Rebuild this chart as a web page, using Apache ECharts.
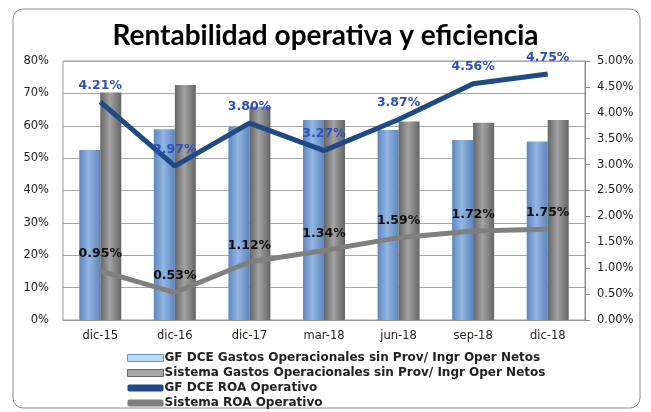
<!DOCTYPE html>
<html><head><meta charset="utf-8">
<script src="https://cdn.jsdelivr.net/npm/echarts@6/dist/echarts.min.js"></script>
<style>html,body{margin:0;padding:0;background:#fff}#c{width:651px;height:412px}</style>
</head><body><div id="c"></div>
<script>
const categories = ['dic-15','dic-16','dic-17','mar-18','jun-18','sep-18','dic-18'];
const gfGastos = [52.5, 58.9, 59.7, 61.8, 58.7, 55.6, 55.1];
const sisGastos = [70.3, 72.6, 65.9, 61.8, 61.3, 60.9, 61.8];
const gfRoa = [4.21, 2.97, 3.80, 3.27, 3.87, 4.56, 4.75];
const sisRoa = [0.95, 0.53, 1.12, 1.34, 1.59, 1.72, 1.75];
const leftTicks = [0,10,20,30,40,50,60,70,80];
const rightTicks = [0,0.5,1,1.5,2,2.5,3,3.5,4,4.5,5];
const names = ['GF DCE Gastos Operacionales sin Prov/ Ingr Oper Netos','Sistema Gastos Operacionales sin Prov/ Ingr Oper Netos','GF DCE ROA Operativo','Sistema ROA Operativo'];

const grad = (a,b)=>({type:'linear',x:0,y:0,x2:1,y2:0,colorStops:[{offset:0,color:a},{offset:0.45,color:b},{offset:1,color:a}]});
const chart = echarts.init(document.getElementById('c'));
const axFont = {fontFamily:'DejaVu Sans',fontSize:11.5,color:'#222'};
const lbl = (c)=>({show:true,position:'top',distance:10,formatter:p=>p.value.toFixed(2)+'%',fontFamily:'DejaVu Sans',fontWeight:'bold',fontSize:12.5,color:c});
chart.setOption({
  animation:false,
  title:{text:'Rentabilidad operativa y eficiencia',left:'center',top:17,textStyle:{fontFamily:'Lato',fontWeight:'bold',fontSize:28,color:'#000'}},
  graphic:[{type:'rect',shape:{x:13,y:9,width:627,height:399,r:10},style:{fill:'none',stroke:'#8a8a8a',lineWidth:1},silent:true}],
  grid:{left:63,right:66,top:61,bottom:92,show:true,borderColor:'#999',borderWidth:1},
  legend:{orient:'vertical',left:122,top:347,height:120,itemGap:3,itemWidth:36,itemHeight:7,
    textStyle:{fontFamily:'DejaVu Sans',fontWeight:'bold',fontSize:12,color:'#222',padding:[0,0,0,-4]},
    data:[{name:names[0],icon:'rect',itemStyle:{color:'#b9d9f5',borderColor:'#6f96c8',borderWidth:1}},
          {name:names[1],icon:'rect',itemStyle:{color:'#a8a8a8',borderColor:'#666',borderWidth:1}},
          {name:names[2],icon:'roundRect'},{name:names[3],icon:'roundRect'}]},
  xAxis:{type:'category',data:categories,axisTick:{show:false},axisLine:{lineStyle:{color:'#999'}},
    axisLabel:Object.assign({margin:10},axFont)},
  yAxis:[
    {type:'value',min:0,max:80,interval:10,axisLabel:Object.assign({formatter:v=>v+'%',margin:14},axFont),
     splitLine:{lineStyle:{color:'#a6a6a6'}},axisLine:{show:false},axisTick:{show:false}},
    {type:'value',min:0,max:5,interval:0.5,position:'right',axisLabel:Object.assign({formatter:v=>v.toFixed(2)+'%',margin:12},axFont),
     splitLine:{show:false},axisLine:{show:true,lineStyle:{color:'#888'}},axisTick:{show:true,inside:false,length:5,lineStyle:{color:'#888'}}}
  ],
  series:[
    {name:names[0],type:'bar',data:gfGastos,barWidth:21,barGap:'0%',itemStyle:{color:grad('#5d86bd','#93b6e2')}},
    {name:names[1],type:'bar',data:sisGastos,barWidth:21,itemStyle:{color:grad('#656565','#a2a2a2')}},
    {name:names[2],type:'line',yAxisIndex:1,data:gfRoa,showSymbol:true,symbol:'circle',symbolSize:0.1,lineStyle:{color:'#1f4a85',width:5},itemStyle:{color:'#1f4a85'},
     label:lbl('#2f4fc0')},
    {name:names[3],type:'line',yAxisIndex:1,data:sisRoa,showSymbol:true,symbol:'circle',symbolSize:0.1,lineStyle:{color:'#7f7f7f',width:5},itemStyle:{color:'#7f7f7f'},
     label:lbl('#111')}
  ]
});
</script></body></html>
